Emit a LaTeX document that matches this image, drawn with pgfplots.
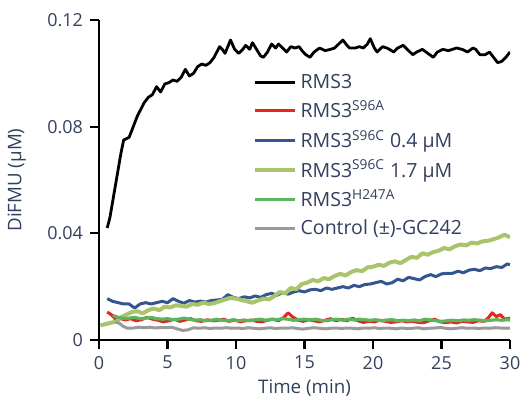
\documentclass[border=0pt]{standalone}
\usepackage{fontspec}
\setmainfont{Open Sans}
\usepackage{pgfplots}
\pgfplotsset{compat=1.18}
\definecolor{txt}{HTML}{333F5F}
\definecolor{cred}{HTML}{E3281B}
\definecolor{cblue}{HTML}{34558F}
\definecolor{clime}{HTML}{A9C46A}
\definecolor{cgreen}{HTML}{5CB55E}
\definecolor{cgray}{HTML}{9A9A9A}
\begin{document}
\begin{tikzpicture}
\begin{axis}[
  scale only axis,
  width=205.5bp,height=160bp,
  xmin=0,xmax=30,ymin=0,ymax=0.12,
  axis lines=left,
  axis line style={-,line width=1.1bp},
  every tick/.style={line width=1.1bp,black},
  major tick length=4.5bp,
  tick align=outside,
  xtick={0,5,...,30},
  ytick={0,0.04,0.08,0.12},
  yticklabels={0,0.04,0.08,0.12},
  tick label style={font=\fontsize{9}{10}\selectfont,text=txt},
  /pgf/number format/assume math mode=true,
  xlabel={Time (min)},
  ylabel={DiFMU (µM)},
  label style={font=\fontsize{9.4}{11}\selectfont,text=txt},
  xlabel style={at={(axis description cs:0.5,-0.15)},anchor=center},
  ylabel style={at={(axis description cs:-0.2,0.5)},anchor=center},
  legend style={at={(axis cs:10.75,0.1029)},anchor=north west,draw=none,fill=none,
    font=\fontsize{9.8}{11}\selectfont,text=txt,row sep=0.8bp},
  legend cell align=left,
  legend image code/.code={\draw[#1] (0bp,0bp) -- (20bp,0bp);},
  every axis plot/.append style={line join=round},
]
\coordinate (sw) at (rel axis cs:0,0);
\coordinate (ne) at (rel axis cs:1,1);
\addplot[black,line width=1.4bp] coordinates {
(0.6,0.042) (0.8,0.046) (1.0,0.052) (1.2,0.058) (1.4,0.064) (1.6,0.070) (1.8,0.075) (2.0,0.0755)
(2.2,0.076) (2.5,0.080) (2.8,0.084) (3.0,0.086) (3.3,0.089) (3.6,0.091) (3.9,0.092) (4.2,0.095)
(4.5,0.093) (4.8,0.096) (5.1,0.0965) (5.4,0.0975) (5.7,0.097) (6.0,0.0985) (6.3,0.1015) (6.6,0.099)
(6.9,0.100) (7.2,0.1025) (7.5,0.1035) (7.8,0.103) (8.1,0.104) (8.4,0.106) (8.8,0.110) (9.0,0.109)
(9.2,0.1075) (9.6,0.1125) (9.9,0.109) (10.2,0.1075) (10.5,0.109) (10.7,0.1105) (11.0,0.109) (11.2,0.1115)
(11.5,0.109) (11.8,0.1065) (12.0,0.106) (12.3,0.108) (12.6,0.111) (12.9,0.1095) (13.1,0.111) (13.4,0.1095)
(13.7,0.108) (14.0,0.110) (14.3,0.1095) (14.6,0.110) (14.9,0.108) (15.1,0.107) (15.4,0.106) (15.7,0.108)
(16.1,0.1095) (16.5,0.1085) (16.9,0.109) (17.2,0.1095) (17.5,0.111) (17.8,0.1125) (18.1,0.1105) (18.3,0.1095)
(18.7,0.1095) (19.0,0.110) (19.3,0.1095) (19.6,0.111) (19.8,0.113) (20.1,0.1095) (20.3,0.108) (20.7,0.110)
(21.0,0.1095) (21.2,0.109) (21.5,0.108) (21.8,0.1095) (22.2,0.1105) (22.5,0.109) (22.9,0.107) (23.2,0.108)
(23.6,0.109) (24.0,0.1075) (24.4,0.106) (24.7,0.108) (25.1,0.109) (25.5,0.1085) (25.8,0.109) (26.1,0.1095)
(26.5,0.109) (26.9,0.108) (27.3,0.1095) (27.5,0.109) (27.8,0.107) (28.2,0.107) (28.5,0.108) (28.8,0.106)
(29.1,0.104) (29.4,0.1045) (29.7,0.106) (30.0,0.108)};
\addlegendentry{RMS3}
\addplot[cred,line width=1.5bp] coordinates {
(0.6,0.0105) (0.9,0.0095) (1.2,0.0078) (1.5,0.0082) (1.9,0.0075) (2.3,0.008) (2.7,0.0072) (3.1,0.0076)
(3.5,0.0085) (3.9,0.0078) (4.3,0.0074) (4.7,0.0068) (5.1,0.0072) (5.5,0.0078) (5.9,0.007) (6.3,0.0075)
(6.7,0.008) (7.1,0.0072) (7.5,0.007) (7.9,0.0076) (8.3,0.0072) (8.7,0.0074) (9.1,0.0078) (9.5,0.007)
(9.9,0.0075) (10.3,0.0068) (10.7,0.0072) (11.1,0.0075) (11.5,0.007) (11.9,0.0068) (12.3,0.0074) (12.7,0.0078)
(13.1,0.0072) (13.5,0.0085) (13.8,0.0102) (14.1,0.0088) (14.5,0.0075) (14.9,0.007) (15.3,0.0076) (15.7,0.0072)
(16.1,0.0068) (16.5,0.0074) (16.9,0.008) (17.3,0.0072) (17.7,0.0078) (18.1,0.0072) (18.5,0.0082) (18.9,0.0072)
(19.3,0.0066) (19.7,0.007) (20.1,0.0068) (20.5,0.0074) (20.9,0.007) (21.3,0.0066) (21.7,0.0068) (22.1,0.0072)
(22.5,0.0068) (22.9,0.007) (23.3,0.0066) (23.7,0.0065) (24.1,0.0072) (24.5,0.0078) (24.9,0.0068) (25.3,0.0065)
(25.7,0.0068) (26.1,0.0064) (26.5,0.007) (26.9,0.0068) (27.3,0.0066) (27.7,0.0072) (28.1,0.007) (28.4,0.0082)
(28.7,0.0102) (29.0,0.0088) (29.3,0.0095) (29.6,0.0078) (30.0,0.0082)};
\addlegendentry{RMS3\textsuperscript{S96A}}
\addplot[cblue,line width=1.5bp] coordinates {
(0.6,0.0155) (1.0,0.0145) (1.4,0.014) (1.8,0.0135) (2.2,0.0135) (2.6,0.012) (3.0,0.0135) (3.4,0.014)
(3.8,0.0135) (4.2,0.014) (4.6,0.0145) (5.0,0.014) (5.4,0.0155) (5.8,0.0145) (6.2,0.0138) (6.6,0.0148)
(7.0,0.0142) (7.4,0.0146) (7.8,0.0142) (8.2,0.0148) (8.6,0.015) (9.0,0.0152) (9.4,0.017) (9.8,0.016)
(10.2,0.0155) (10.6,0.0162) (11.0,0.0158) (11.4,0.0165) (11.8,0.016) (12.2,0.017) (12.6,0.0175) (13.0,0.0168)
(13.4,0.0178) (13.8,0.0172) (14.2,0.018) (14.6,0.0185) (15.0,0.018) (15.4,0.0188) (15.8,0.019) (16.2,0.0185)
(16.6,0.0195) (17.0,0.019) (17.4,0.0195) (17.8,0.02) (18.2,0.0195) (18.6,0.0205) (19.0,0.02) (19.4,0.0208)
(19.8,0.021) (20.2,0.0215) (20.6,0.022) (21.0,0.021) (21.4,0.0215) (21.8,0.0228) (22.2,0.0222) (22.6,0.0235)
(23.0,0.023) (23.4,0.0225) (23.8,0.0238) (24.2,0.0245) (24.6,0.0238) (25.0,0.0248) (25.4,0.025) (25.8,0.025)
(26.2,0.0258) (26.6,0.0252) (27.0,0.0262) (27.4,0.0265) (27.8,0.026) (28.2,0.027) (28.6,0.0268) (29.0,0.0275)
(29.4,0.0272) (29.8,0.0285) (30.0,0.0283)};
\addlegendentry{RMS3\textsuperscript{S96C} 0.4 µM}
\addplot[clime,line width=2bp] coordinates {
(0.1,0.0055) (0.5,0.006) (0.9,0.0065) (1.3,0.007) (1.6,0.0085) (2.0,0.0095) (2.4,0.0105) (2.8,0.0108)
(3.2,0.010) (3.6,0.0112) (4.0,0.0118) (4.4,0.0112) (4.8,0.0125) (5.2,0.0122) (5.6,0.013) (6.0,0.0128)
(6.4,0.0125) (6.8,0.0135) (7.2,0.0132) (7.6,0.014) (8.0,0.0135) (8.4,0.0138) (8.8,0.0145) (9.2,0.0152)
(9.6,0.0158) (10.0,0.0155) (10.4,0.015) (10.8,0.0145) (11.2,0.014) (11.6,0.0148) (12.0,0.0155) (12.4,0.0152)
(12.8,0.0165) (13.2,0.018) (13.6,0.0175) (14.0,0.0195) (14.4,0.019) (14.8,0.021) (15.2,0.0215) (15.6,0.0225)
(16.0,0.022) (16.4,0.0232) (16.8,0.0228) (17.2,0.024) (17.6,0.0248) (18.0,0.0242) (18.4,0.0255) (18.8,0.0262)
(19.2,0.0258) (19.6,0.0272) (20.0,0.0275) (20.4,0.0282) (20.8,0.0278) (21.2,0.029) (21.6,0.0295) (22.0,0.0288)
(22.4,0.030) (22.8,0.0312) (23.2,0.0308) (23.6,0.0325) (24.0,0.032) (24.4,0.033) (24.8,0.0335) (25.2,0.0345)
(25.6,0.034) (26.0,0.0352) (26.4,0.0358) (26.8,0.0355) (27.2,0.0365) (27.6,0.0362) (28.0,0.037) (28.4,0.0372)
(28.8,0.0378) (29.2,0.0385) (29.6,0.0395) (30.0,0.0385)};
\addlegendentry{RMS3\textsuperscript{S96C} 1.7 µM}
\addplot[cgreen,line width=1.6bp] coordinates {
(1.0,0.0092) (1.4,0.0085) (1.8,0.008) (2.2,0.0082) (2.6,0.0085) (3.0,0.008) (3.4,0.0082) (3.8,0.0085)
(4.2,0.008) (4.6,0.0078) (5.0,0.008) (5.4,0.0076) (5.8,0.0078) (6.2,0.0082) (6.6,0.0078) (7.0,0.0074)
(7.4,0.0076) (7.8,0.0072) (8.2,0.0074) (8.6,0.0078) (9.0,0.0074) (9.4,0.0072) (9.8,0.0076) (10.2,0.0072)
(10.6,0.0075) (11.0,0.0072) (11.4,0.0076) (11.8,0.0078) (12.2,0.0074) (12.6,0.0078) (13.0,0.0076) (13.4,0.008)
(13.8,0.0078) (14.2,0.0074) (14.6,0.0076) (15.0,0.0078) (15.4,0.0075) (15.8,0.0078) (16.2,0.0074) (16.6,0.0072)
(17.0,0.0076) (17.4,0.0078) (17.8,0.0074) (18.2,0.0078) (18.6,0.0075) (19.0,0.0078) (19.4,0.0076) (19.8,0.0074)
(20.2,0.0076) (20.6,0.0072) (21.0,0.0075) (21.4,0.0076) (21.8,0.0072) (22.2,0.0074) (22.6,0.0072) (23.0,0.0075)
(23.4,0.0072) (23.8,0.0078) (24.2,0.0075) (24.6,0.0072) (25.0,0.007) (25.4,0.0072) (25.8,0.0074) (26.2,0.0072)
(26.6,0.0075) (27.0,0.0074) (27.4,0.0076) (27.8,0.0074) (28.2,0.0072) (28.6,0.0074) (29.0,0.0076) (29.4,0.0074)
(29.8,0.0076) (30.0,0.0075)};
\addlegendentry{RMS3\textsuperscript{H247A}}
\addplot[cgray,line width=1.5bp] coordinates {
(1.2,0.0068) (1.5,0.0062) (1.8,0.005) (2.1,0.0044) (2.5,0.0045) (2.9,0.0048) (3.3,0.0046) (3.7,0.0048)
(4.1,0.0045) (4.5,0.0047) (4.9,0.0046) (5.3,0.0048) (5.7,0.0042) (6.1,0.0036) (6.5,0.0038) (6.9,0.0046)
(7.3,0.0044) (7.7,0.0046) (8.1,0.0043) (8.5,0.0045) (8.9,0.0044) (9.3,0.0046) (9.7,0.0044) (10.1,0.0045)
(10.5,0.0043) (10.9,0.0046) (11.3,0.0044) (11.7,0.0042) (12.1,0.0044) (12.5,0.0046) (12.9,0.0043) (13.3,0.0045)
(13.7,0.0044) (14.1,0.0046) (14.5,0.0043) (14.9,0.0041) (15.3,0.0044) (15.7,0.0046) (16.1,0.0044) (16.5,0.0042)
(16.9,0.0044) (17.3,0.0045) (17.7,0.0043) (18.1,0.0045) (18.5,0.0044) (18.9,0.0042) (19.3,0.0045) (19.7,0.0044)
(20.1,0.0046) (20.5,0.0043) (20.9,0.0045) (21.3,0.0044) (21.7,0.0042) (22.1,0.0045) (22.5,0.0043) (22.9,0.0044)
(23.3,0.0046) (23.7,0.0042) (24.1,0.0044) (24.5,0.0045) (24.9,0.0047) (25.3,0.0044) (25.7,0.0042) (26.1,0.0044)
(26.5,0.0046) (26.9,0.0044) (27.3,0.0045) (27.7,0.0043) (28.1,0.0045) (28.5,0.0044) (28.9,0.0046) (29.3,0.0045)
(29.7,0.0044) (30.0,0.0045)};
\addlegendentry{Control (±)-GC242}
\end{axis}
\pgfresetboundingbox
\path ([shift={(-49.5bp,-31bp)}]sw) rectangle ([shift={(5bp,10bp)}]ne);
\end{tikzpicture}
\end{document}
